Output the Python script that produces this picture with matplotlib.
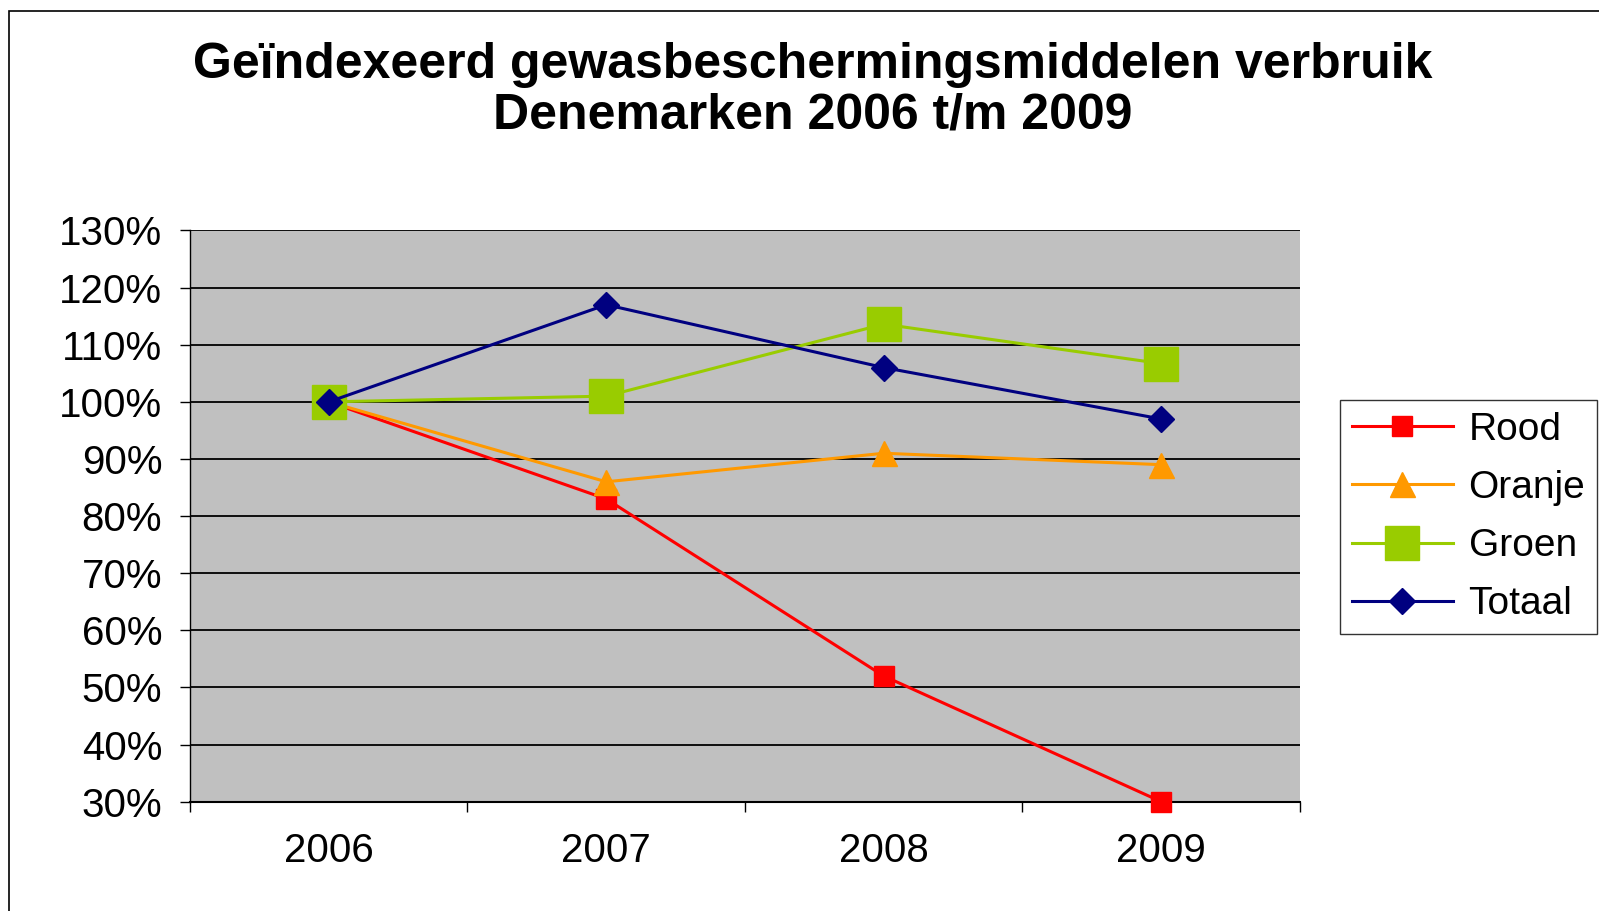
import numpy as np
import matplotlib
matplotlib.use("Agg")
import matplotlib.pyplot as plt
from matplotlib.patches import Rectangle
from matplotlib.ticker import FixedLocator, NullFormatter, FuncFormatter

plt.rcParams['font.family'] = ['Liberation Sans', 'DejaVu Sans']

# data
years = ['2006', '2007', '2008', '2009']
rood = [100, 83, 52, 30]
oranje = [100, 86, 91, 89]
groen = [100, 101, 113.6, 106.7]
totaal = [100, 117, 106, 97]

fig = plt.figure(figsize=(15.99, 9.11), dpi=100)
ax = fig.add_axes([0.1188, 0.120, 0.6942, 0.627])
ax.set_facecolor('#C0C0C0')

x = np.arange(len(years)) + 0.5
ax.plot(x, rood, color='#FF0000', lw=2.2, marker='s', ms=15, mec='#FF0000', label='Rood', zorder=3, clip_on=False)
ax.plot(x, oranje, color='#FF9900', lw=2.2, marker='^', ms=18, mec='#FF9900', label='Oranje', zorder=3)
ax.plot(x, groen, color='#99CC00', lw=2.2, marker='s', ms=24, mec='#99CC00', label='Groen', zorder=3)
ax.plot(x, totaal, color='#000080', lw=2.2, marker='D', ms=13, mec='#000080', label='Totaal', zorder=4)

ax.set_xlim(0, 4)
ax.set_ylim(30, 130)
ax.set_yticks(np.arange(30, 131, 10))
ax.yaxis.set_major_formatter(FuncFormatter(lambda v, p: f"{v:.0f}%"))
ax.yaxis.grid(True, color='black', lw=1.3)
ax.set_axisbelow(True)

ax.xaxis.set_major_locator(FixedLocator([0, 1, 2, 3, 4]))
ax.xaxis.set_major_formatter(NullFormatter())
ax.xaxis.set_minor_locator(FixedLocator(x))
ax.set_xticklabels(years, minor=True)
ax.tick_params(axis='x', which='minor', length=0, pad=22, labelsize=29)
ax.tick_params(axis='x', which='major', length=7, width=1, direction='out')
ax.tick_params(axis='y', length=7, width=1, direction='out', pad=13, labelsize=29)

for s in ['top', 'right']:
    ax.spines[s].set_visible(False)
ax.spines['left'].set_linewidth(1)
ax.spines['bottom'].set_linewidth(1.5)

fig.text(0.508, 0.929, 'Geïndexeerd gewasbeschermingsmiddelen verbruik', ha='center', va='center',
         fontsize=36, fontweight='bold')
fig.text(0.508, 0.873, 'Denemarken 2006 t/m 2009', ha='center', va='center',
         fontsize=36, fontweight='bold')

leg = fig.legend(loc='upper left', bbox_to_anchor=(0.826, 0.582), fontsize=28, frameon=True,
                 fancybox=False, edgecolor='black', handlelength=2.6, labelspacing=0.57,
                 borderpad=0.3, handletextpad=0.4, markerscale=1.0)
leg.get_frame().set_linewidth(1)

# outer chart border
fig.patches.append(Rectangle((9 / 1599, -0.1), 1.2, 1.1 - 11 / 911, transform=fig.transFigure,
                             fill=False, edgecolor='black', lw=1.2))

fig.savefig('out.png', dpi=100)
